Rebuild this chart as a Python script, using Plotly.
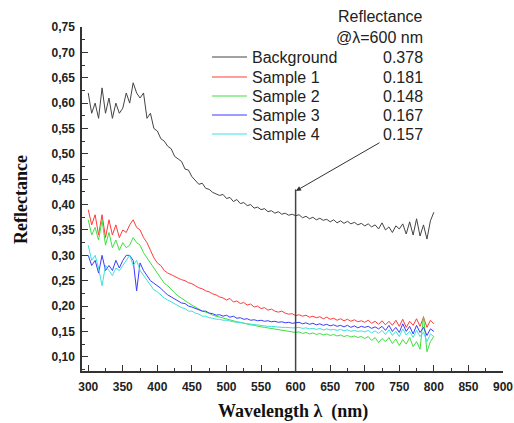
import plotly.graph_objects as go

wavelength = list(range(300, 805, 5))

background = [0.62,0.58,0.60,0.57,0.63,0.58,0.61,0.57,0.60,0.58,0.59,0.62,0.60,0.64,0.62,0.61,0.62,0.57,0.58,0.55,
              0.545,0.53,0.525,0.515,0.51,0.495,0.49,0.485,0.47,0.468,0.455,0.448,0.44,0.442,0.432,0.43,0.424,0.421,0.418,0.42,
              0.412,0.414,0.406,0.41,0.402,0.404,0.398,0.40,0.393,0.395,0.39,0.392,0.386,0.388,0.383,0.386,0.381,0.383,0.379,0.381,
              0.378,0.38,0.374,0.377,0.372,0.375,0.37,0.373,0.369,0.371,0.366,0.37,0.364,0.368,0.363,0.367,0.362,0.365,0.36,0.363,
              0.358,0.362,0.356,0.36,0.352,0.364,0.35,0.356,0.345,0.358,0.352,0.362,0.342,0.366,0.34,0.372,0.338,0.36,0.332,0.368,0.385]
sample1 = [0.39,0.36,0.38,0.34,0.38,0.335,0.37,0.34,0.36,0.335,0.35,0.345,0.36,0.37,0.355,0.35,0.335,0.325,0.31,0.295,
           0.285,0.28,0.27,0.265,0.262,0.258,0.255,0.252,0.25,0.246,0.244,0.24,0.236,0.234,0.23,0.228,0.224,0.222,0.218,0.216,
           0.212,0.215,0.208,0.21,0.205,0.207,0.202,0.204,0.198,0.2,0.195,0.197,0.192,0.194,0.19,0.188,0.19,0.186,0.184,0.185,
           0.181,0.183,0.18,0.182,0.178,0.18,0.177,0.179,0.175,0.178,0.174,0.176,0.172,0.175,0.171,0.174,0.17,0.173,0.169,0.171,
           0.168,0.172,0.166,0.17,0.164,0.171,0.163,0.17,0.162,0.172,0.16,0.174,0.158,0.17,0.162,0.175,0.16,0.178,0.158,0.172,0.165]
sample2 = [0.37,0.34,0.355,0.33,0.37,0.32,0.345,0.315,0.33,0.31,0.325,0.315,0.32,0.335,0.325,0.32,0.305,0.295,0.285,0.275,
           0.265,0.255,0.245,0.24,0.232,0.226,0.22,0.215,0.21,0.206,0.202,0.198,0.194,0.19,0.188,0.186,0.182,0.18,0.178,0.176,
           0.174,0.172,0.171,0.169,0.168,0.166,0.165,0.163,0.162,0.16,0.159,0.158,0.157,0.155,0.155,0.153,0.152,0.151,0.15,0.149,
           0.148,0.149,0.146,0.148,0.145,0.147,0.144,0.146,0.143,0.145,0.142,0.144,0.141,0.143,0.14,0.142,0.139,0.141,0.138,0.14,
           0.136,0.14,0.132,0.138,0.128,0.136,0.13,0.138,0.126,0.135,0.122,0.134,0.125,0.138,0.12,0.13,0.115,0.18,0.11,0.13,0.14]
sample3 = [0.30,0.28,0.29,0.265,0.30,0.27,0.28,0.27,0.29,0.275,0.29,0.30,0.30,0.29,0.23,0.285,0.27,0.26,0.25,0.245,
           0.24,0.235,0.228,0.222,0.218,0.214,0.21,0.206,0.205,0.2,0.198,0.195,0.193,0.19,0.19,0.186,0.185,0.182,0.183,0.18,
           0.182,0.178,0.18,0.176,0.177,0.174,0.175,0.172,0.173,0.171,0.172,0.17,0.171,0.169,0.17,0.168,0.169,0.167,0.168,0.166,
           0.167,0.168,0.165,0.167,0.164,0.166,0.163,0.165,0.162,0.164,0.161,0.163,0.16,0.162,0.159,0.162,0.158,0.161,0.157,0.16,
           0.158,0.16,0.156,0.159,0.155,0.16,0.152,0.162,0.15,0.158,0.148,0.165,0.15,0.16,0.145,0.162,0.148,0.158,0.142,0.155,0.15]
sample4 = [0.32,0.29,0.30,0.275,0.24,0.28,0.27,0.26,0.275,0.27,0.28,0.29,0.30,0.28,0.29,0.27,0.26,0.25,0.24,0.232,
           0.228,0.222,0.216,0.212,0.208,0.204,0.2,0.197,0.195,0.19,0.19,0.186,0.184,0.18,0.18,0.177,0.176,0.174,0.174,0.172,
           0.172,0.17,0.169,0.168,0.167,0.166,0.165,0.164,0.163,0.162,0.162,0.161,0.16,0.16,0.159,0.159,0.158,0.158,0.157,0.157,
           0.157,0.158,0.156,0.157,0.155,0.156,0.154,0.156,0.153,0.155,0.153,0.154,0.152,0.154,0.151,0.153,0.15,0.152,0.15,0.151,
           0.149,0.152,0.147,0.151,0.146,0.152,0.144,0.153,0.142,0.15,0.14,0.155,0.143,0.15,0.138,0.152,0.14,0.148,0.13,0.145,0.14]

names = ["Background", "Sample 1", "Sample 2", "Sample 3", "Sample 4"]
values_at_600 = ["0.378", "0.181", "0.148", "0.167", "0.157"]
series = [background, sample1, sample2, sample3, sample4]
colors = ["#444444", "#ff3b3b", "#3ee03e", "#3a3aff", "#3ee0e0"]

W, H = 514, 423
L, R, T, B = 82, 11, 27, 52
pw, ph = W - L - R, H - T - B

def px(x):
    return (x - L) / pw

def py(y):
    return (H - B - y) / ph

fig = go.Figure()
for name, ys, c in zip(names, series, colors):
    fig.add_trace(go.Scatter(x=wavelength, y=ys, mode="lines", name=name,
                             line=dict(color=c, width=1), showlegend=False))

tickfont = dict(family="Liberation Sans, Arial", size=12, color="#222", weight="bold")
fig.update_layout(
    width=W, height=H, margin=dict(l=L, r=R, t=T, b=B, autoexpand=False),
    paper_bgcolor="white", plot_bgcolor="white", separators=", ",
    xaxis=dict(range=[291, 900], tick0=300, dtick=50, ticks="inside", ticklen=6,
               tickcolor="#333", showline=True, linecolor="#333", linewidth=1.5,
               showgrid=False, zeroline=False, tickfont=tickfont, automargin=False,
               ticklabelstandoff=4,
               minor=dict(dtick=25, ticks="inside", ticklen=3, tickcolor="#333")),
    yaxis=dict(range=[0.072, 0.75], tick0=0, dtick=0.05, tickformat=".2f",
               ticks="inside", ticklen=6, tickcolor="#333", showline=True,
               linecolor="#333", linewidth=1.5, showgrid=False, zeroline=False,
               tickfont=tickfont, ticklabelstandoff=3, automargin=False,
               minor=dict(dtick=0.025, ticks="inside", ticklen=3, tickcolor="#333")),
)

# vertical marker at 600 nm
fig.add_shape(type="line", x0=600, x1=600, y0=0.072, y1=0.43, xref="x", yref="y",
              line=dict(color="#444", width=1.5))
fig.add_annotation(x=600.5, y=0.427, xref="x", yref="y", text="", showarrow=True,
                   ax=85, ay=-49, arrowhead=2, arrowsize=1, arrowwidth=1, arrowcolor="#333")

# legend
rows = [57, 77, 96, 115, 134]
lfont = dict(family="Liberation Sans, Arial", size=16, color="#222")
for r, name, val, c in zip(rows, names, values_at_600, colors):
    fig.add_shape(type="line", xref="paper", yref="paper", x0=px(212), x1=px(247),
                  y0=py(r), y1=py(r), line=dict(color=c, width=1))
    fig.add_annotation(xref="paper", yref="paper", x=px(250), y=py(r), text=name,
                       xanchor="left", yanchor="middle", showarrow=False, font=lfont)
    fig.add_annotation(xref="paper", yref="paper", x=px(425), y=py(r), text=val,
                       xanchor="right", yanchor="middle", showarrow=False, font=lfont)
fig.add_annotation(xref="paper", yref="paper", x=px(425), y=py(17), text="Reflectance",
                   xanchor="right", yanchor="middle", showarrow=False, font=lfont)
fig.add_annotation(xref="paper", yref="paper", x=px(425), y=py(37), text="@λ=600 nm",
                   xanchor="right", yanchor="middle", showarrow=False, font=lfont)

tfont = dict(family="Liberation Serif, Times New Roman", size=18, color="#111", weight="bold")
fig.add_annotation(xref="paper", yref="paper", x=px(21), y=py(199), text="Reflectance",
                   textangle=-90, showarrow=False, font=tfont, xanchor="center", yanchor="middle")
fig.add_annotation(xref="paper", yref="paper", x=px(293), y=py(411), text="Wavelength λ&nbsp;&nbsp;(nm)",
                   showarrow=False, font=tfont, xanchor="center", yanchor="middle")

fig.write_html("out.html", config={"displayModeBar": False},
               post_script="document.body.style.margin='0';document.body.style.overflow='hidden';")
